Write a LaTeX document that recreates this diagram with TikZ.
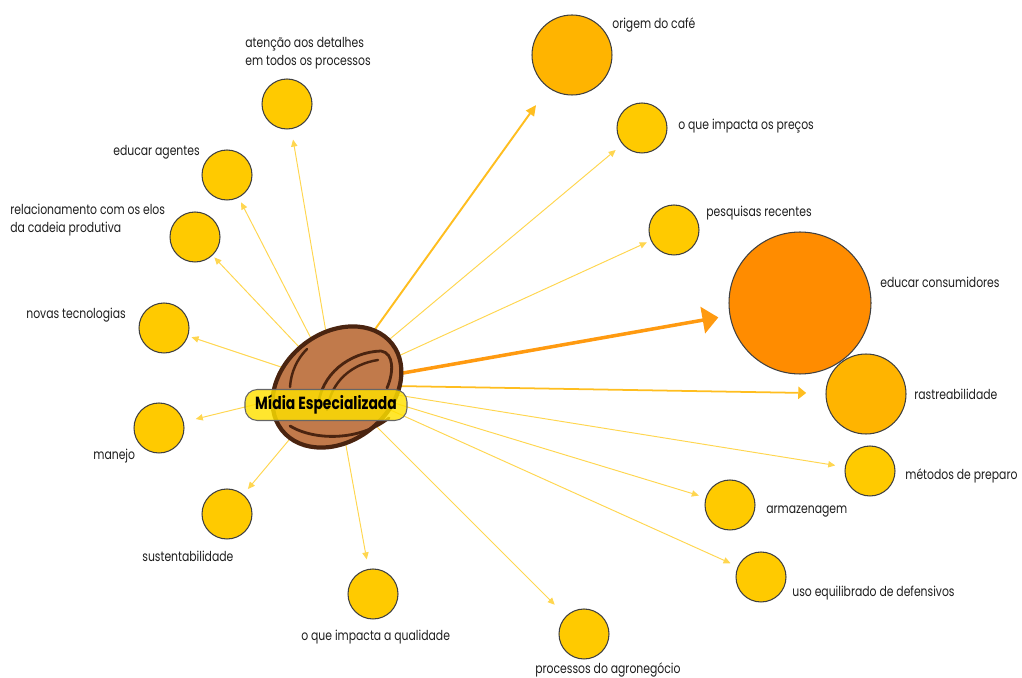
\documentclass[tikz,border=0pt]{standalone}
\usepackage{fontspec}
\setmainfont{Poppins}[FakeStretch=0.79]
\usetikzlibrary{arrows.meta}

\definecolor{gold}{HTML}{FFCA00}
\definecolor{amber}{HTML}{FFB400}
\definecolor{deeporange}{HTML}{FF8C00}
\definecolor{linkyellow}{HTML}{FFD650}
\definecolor{linkamber}{HTML}{FFBE20}
\definecolor{linkorange}{HTML}{FF9A10}
\definecolor{beanfill}{HTML}{C17A4B}
\definecolor{beanline}{HTML}{4A2410}
\definecolor{labelyellow}{HTML}{FFE000}
\definecolor{textgray}{HTML}{1E1E1E}

\tikzset{
    topic/.style={circle, draw=black!75, line width=0.6pt, fill=gold,
        minimum size=1cm, inner sep=0pt},
    tag/.style={anchor=west, text=textgray, align=left, inner sep=0pt,
        font=\fontsize{7.8}{10}\selectfont},
    link/.style={linkyellow, line width=0.55pt,
        -{Triangle[length=4pt, width=3.6pt]}},
}

\begin{document}
\begin{tikzpicture}[x=0.02cm, y=-0.02cm]
    \useasboundingbox (0,0) rectangle (1022,678);

    % topics round the hub
    \node[topic, fill=amber, minimum size=1.6cm] (origem) at (572,55) {};
    \node[topic] (precos) at (642,128) {};
    \node[topic] (pesquisas) at (674,230) {};
    \node[topic, fill=deeporange, minimum size=2.84cm] (consumidores) at (800,303) {};
    \node[topic, fill=amber, minimum size=1.6cm] (rastreio) at (866,394) {};
    \node[topic] (metodos) at (870,471) {};
    \node[topic] (armazenagem) at (730,505) {};
    \node[topic] (defensivos) at (761,577) {};
    \node[topic] (agronegocio) at (584,634) {};
    \node[topic] (qualidade) at (373,594) {};
    \node[topic] (sustentab) at (227,514) {};
    \node[topic] (manejo) at (159,428) {};
    \node[topic] (tecnologias) at (164,328) {};
    \node[topic] (elos) at (195,237) {};
    \node[topic] (agentes) at (227,175) {};
    \node[topic] (detalhes) at (287,104) {};

    % texts
    \node[tag] at (612,25) {origem do café};
    \node[tag] at (678,126) {o que impacta os preços};
    \node[tag] at (706,213) {pesquisas recentes};
    \node[tag] at (880,282) {educar consumidores};
    \node[tag] at (914,394) {rastreabilidade};
    \node[tag] at (905,476) {métodos de preparo};
    \node[tag] at (766,512) {armazenagem};
    \node[tag] at (792,593) {uso equilibrado de defensivos};
    \node[tag] at (535,670) {processos do agronegócio};
    \node[tag] at (301,637) {o que impacta a qualidade};
    \node[tag] at (142,556) {sustentabilidade};
    \node[tag] at (93,456) {manejo};
    \node[tag] at (26,315) {novas tecnologias};
    \node[tag] at (10,220) {relacionamento com os elos\\da cadeia produtiva};
    \node[tag] at (113,152) {educar agentes};
    \node[tag] at (245,53) {atenção aos detalhes\\em todos os processos};

    % links
    \coordinate (hub) at (335,385);
    \draw[link, linkamber, line width=1.1pt,
        -{Triangle[length=6pt, width=5.5pt]}, shorten >=12pt] (hub) -- (origem);
    \draw[link, shorten >=5pt] (hub) -- (precos);
    \draw[link, shorten >=2.5pt] (hub) -- (pesquisas);
    \draw[link, linkorange, line width=2pt,
        -{Triangle[length=9pt, width=15pt]}, shorten >=6.5pt] (hub) -- (consumidores);
    \draw[link, linkamber, line width=1pt,
        -{Triangle[length=4.5pt, width=7pt]}, shorten >=11pt] (hub) -- (rastreio);
    \draw[link, shorten >=5.5pt] (hub) -- (metodos);
    \draw[link, shorten >=4pt] (hub) -- (armazenagem);
    \draw[link, shorten >=4.5pt] (hub) -- (defensivos);
    \draw[link, shorten >=9pt] (hub) -- (agronegocio);
    \draw[link, shorten >=5.5pt] (hub) -- (qualidade);
    \draw[link, shorten >=4pt] (hub) -- (sustentab);
    \draw[link, shorten >=7pt] (hub) -- (manejo);
    \draw[link, shorten >=2pt] (hub) -- (tecnologias);
    \draw[link, shorten >=1.5pt] (hub) -- (elos);
    \draw[link, shorten >=3pt] (hub) -- (agentes);
    \draw[link, shorten >=6pt] (hub) -- (detalhes);

    % coffee bean
    \draw[beanline, fill=beanfill, line width=2.4pt, rotate around={38:(337,387)}]
        (337,387) ellipse [x radius=70, y radius=54];
    \draw[beanline, line width=1.6pt, line cap=round]
        (318,408) .. controls (320,374) and (350,352) .. (381,351)
        .. controls (394,353) and (394,372) .. (387,388);
    \draw[beanline, line width=1.4pt, line cap=round]
        (327,410) .. controls (331,381) and (352,364) .. (378,360);
    \draw[beanline, line width=1.4pt, line cap=round]
        (307,349) .. controls (297,359) and (291,372) .. (290,387);
    \draw[beanline, line width=1.6pt, line cap=round]
        (290,426) .. controls (315,441) and (360,441) .. (389,418);

    % central label
    \node[draw=black!60, line width=0.6pt, fill=labelyellow, fill opacity=0.82,
        text opacity=1, rounded corners=7pt, minimum width=3.24cm,
        minimum height=0.6cm, font=\bfseries\fontsize{10}{11}\selectfont]
        (midia) at (326,405) {Mídia Especializada};
\end{tikzpicture}
\end{document}
